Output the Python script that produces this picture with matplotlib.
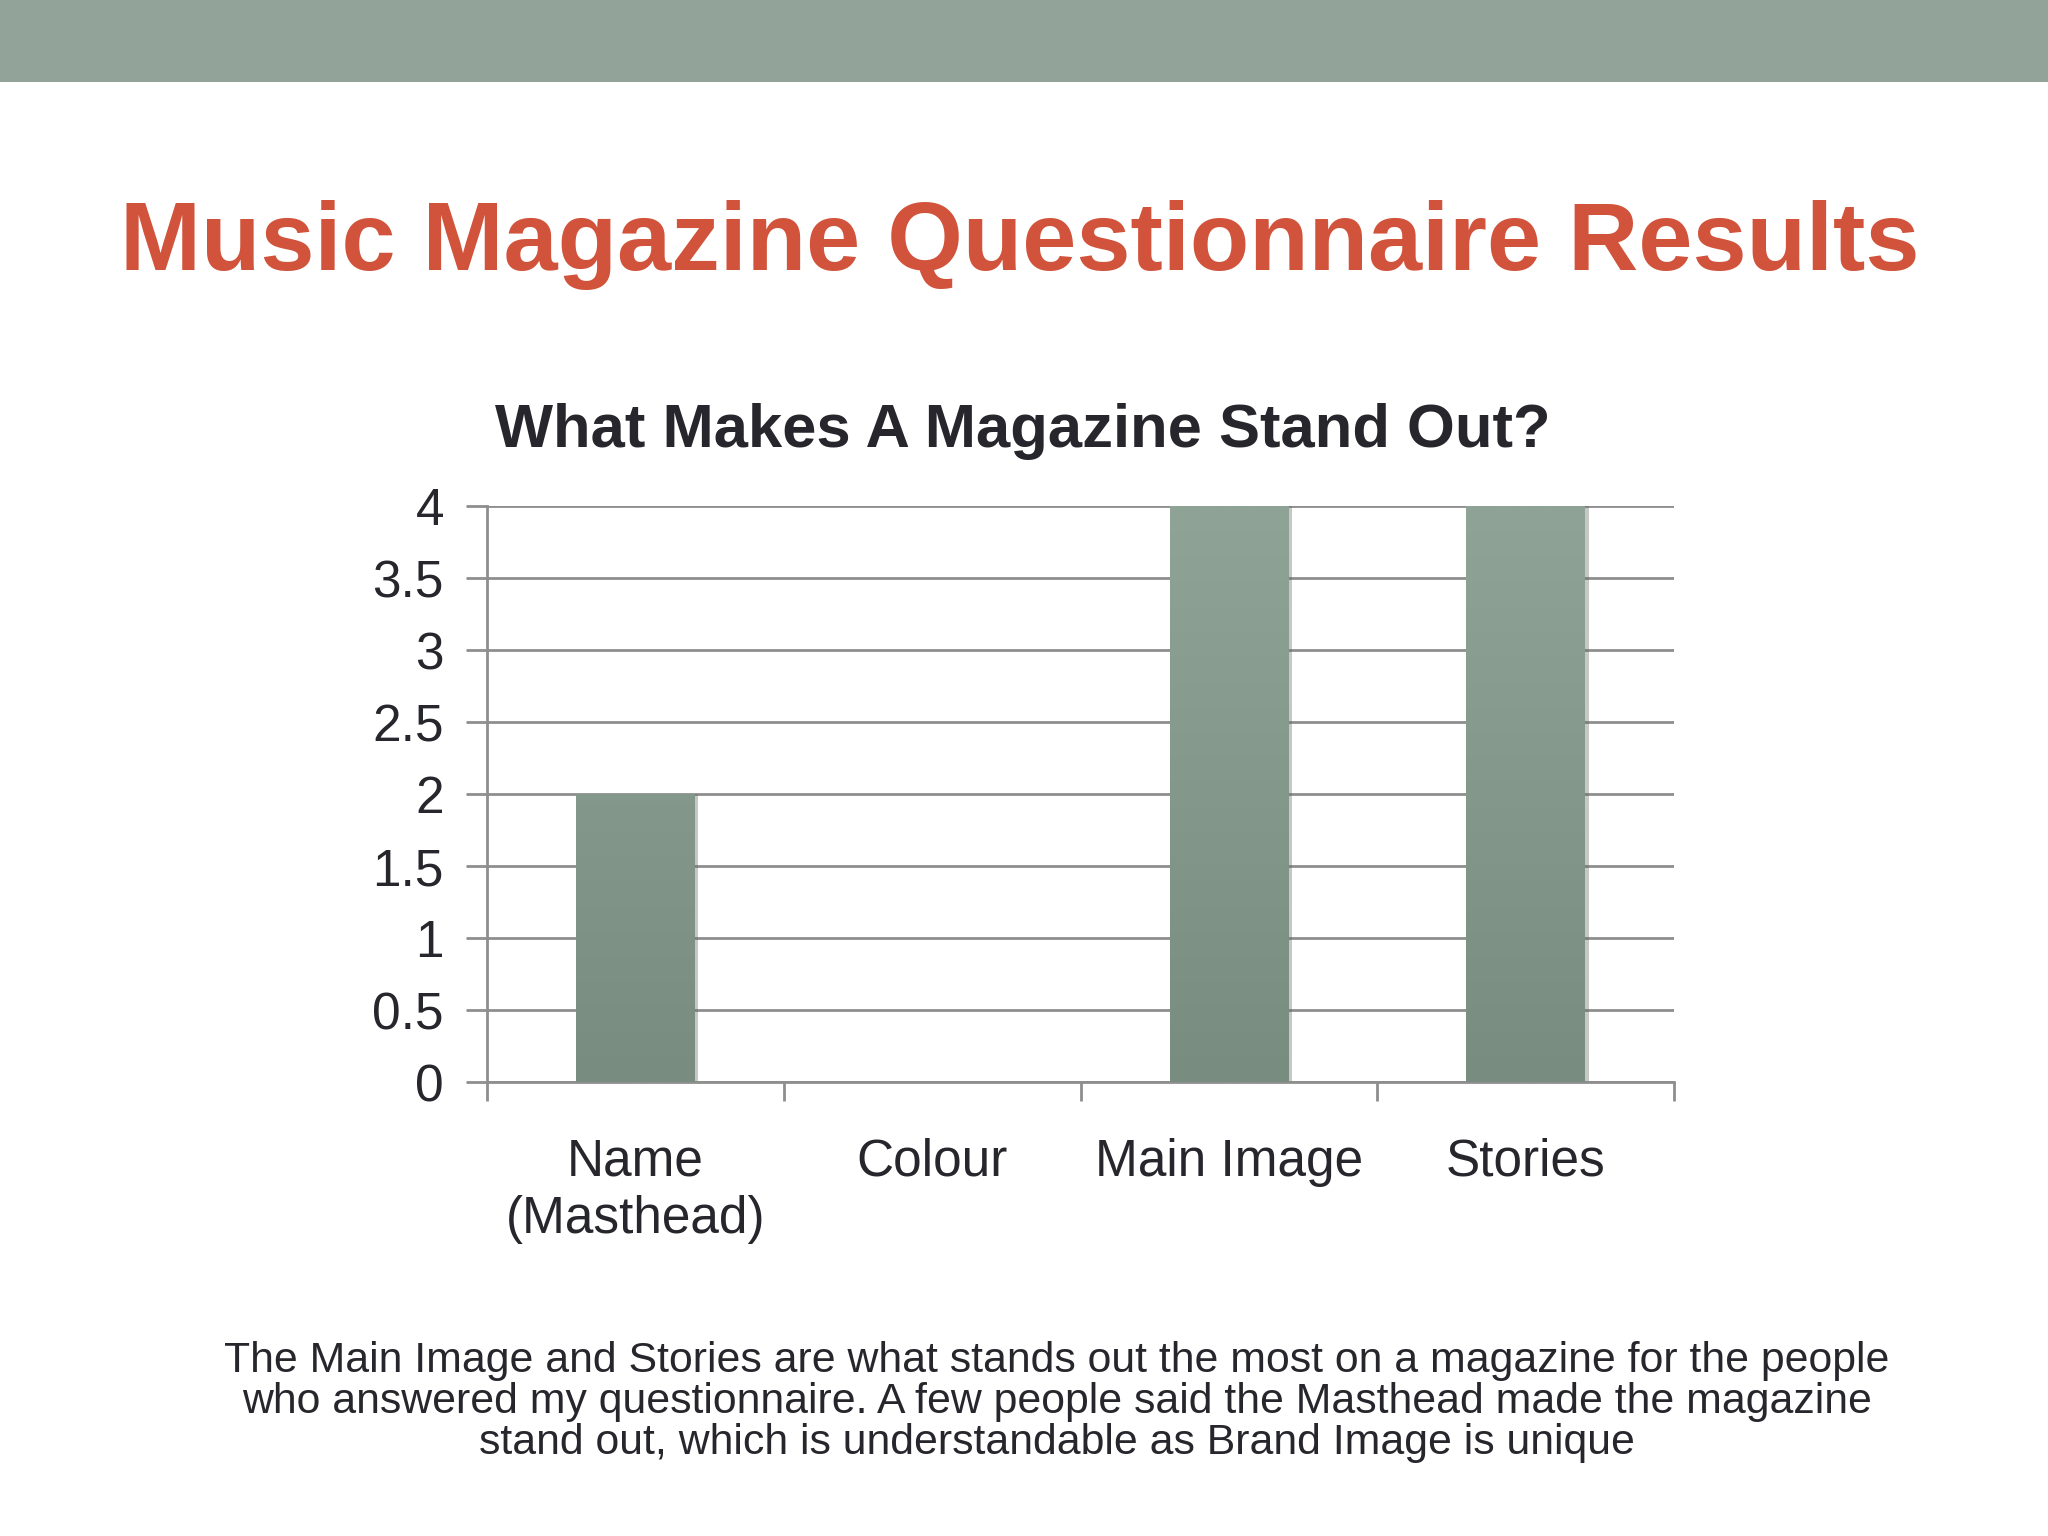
import numpy as np
import matplotlib
matplotlib.use('Agg')
import matplotlib.pyplot as plt
from matplotlib.colors import LinearSegmentedColormap

plt.rcParams['font.family'] = ['Liberation Sans', 'DejaVu Sans']

# data
categories = ['Name\n(Masthead)', 'Colour', 'Main Image', 'Stories']
votes = [2, 0, 4, 4]
y_ticks = [0, 0.5, 1, 1.5, 2, 2.5, 3, 3.5, 4]
y_tick_labels = ['0', '0.5', '1', '1.5', '2', '2.5', '3', '3.5', '4']

slide_title = 'Music Magazine Questionnaire Results'
chart_title = 'What Makes A Magazine Stand Out?'
caption = ('The Main Image and Stories are what stands out the most on a magazine for the people\n'
           'who answered my questionnaire. A few people said the Masthead made the magazine\n'
           'stand out, which is understandable as Brand Image is unique')

BAND = '#92a49a'
RED = '#d2533b'
INK = '#26262c'
GRID = '#8e8e8e'

W, H = 2048, 1536
fig = plt.figure(figsize=(W / 100, H / 100), dpi=100)
fig.patch.set_facecolor('white')

# top band
fig.add_artist(plt.Rectangle((0, 1 - 82 / H), 1, 82 / H, transform=fig.transFigure,
                             facecolor=BAND, edgecolor='none'))

fig.text(0.498, 1 - 270 / H, slide_title, ha='center', va='baseline',
         fontsize=70, fontweight='bold', color=RED)
fig.text(0.4995, 1 - 447 / H, chart_title, ha='center', va='baseline',
         fontsize=44.3, fontweight='bold', color=INK)

ax = fig.add_axes([487 / W, 1 - 1082 / H, (1674 - 487) / W, (1082 - 506) / H])
x = np.arange(len(categories))
ax.set_xlim(-0.5, len(categories) - 0.5)
ax.set_ylim(0, 4)

# soft shadow behind bars
ax.bar(x + 0.01, votes, width=0.405, color='#5f5f5f', alpha=0.35, zorder=2)
bars = ax.bar(x, votes, width=0.40, color='#869a8e', zorder=3)

# vertical gradient inside each bar
cmap = LinearSegmentedColormap.from_list('bar', ['#798c80', '#8fa397'])
grad = np.linspace(0, 1, 256).reshape(-1, 1)
for b in bars:
    if b.get_height() <= 0:
        continue
    im = ax.imshow(grad, cmap=cmap, aspect='auto', origin='lower',
                   extent=(b.get_x(), b.get_x() + b.get_width(), 0, 4), zorder=4)
    im.set_clip_path(b)

ax.set_yticks(y_ticks)
ax.set_yticklabels(y_tick_labels)
ax.yaxis.grid(True, color=GRID, linewidth=2, zorder=1)
ax.set_axisbelow(True)
ax.tick_params(axis='y', length=15, width=2, color=GRID, labelsize=37,
               labelcolor=INK, pad=16)

ax.set_xticks(np.arange(-0.5, len(categories) + 0.5, 1))
ax.set_xticklabels([])
ax.set_xticks(x, minor=True)
ax.set_xticklabels(categories, minor=True, fontsize=37, color=INK, linespacing=1.21)
ax.tick_params(axis='x', which='major', length=14, width=2, color=GRID, direction='out')
ax.tick_params(axis='x', which='minor', length=0, pad=40)

for side in ['top', 'right']:
    ax.spines[side].set_visible(False)
for side in ['left', 'bottom']:
    ax.spines[side].set_color(GRID)
    ax.spines[side].set_linewidth(2)

fig.text(0.516, 1 - 1402 / H, caption, ha='center', va='center',
         fontsize=30.8, color=INK, linespacing=1.03)

fig.savefig('out.png', dpi=100, facecolor='white')
